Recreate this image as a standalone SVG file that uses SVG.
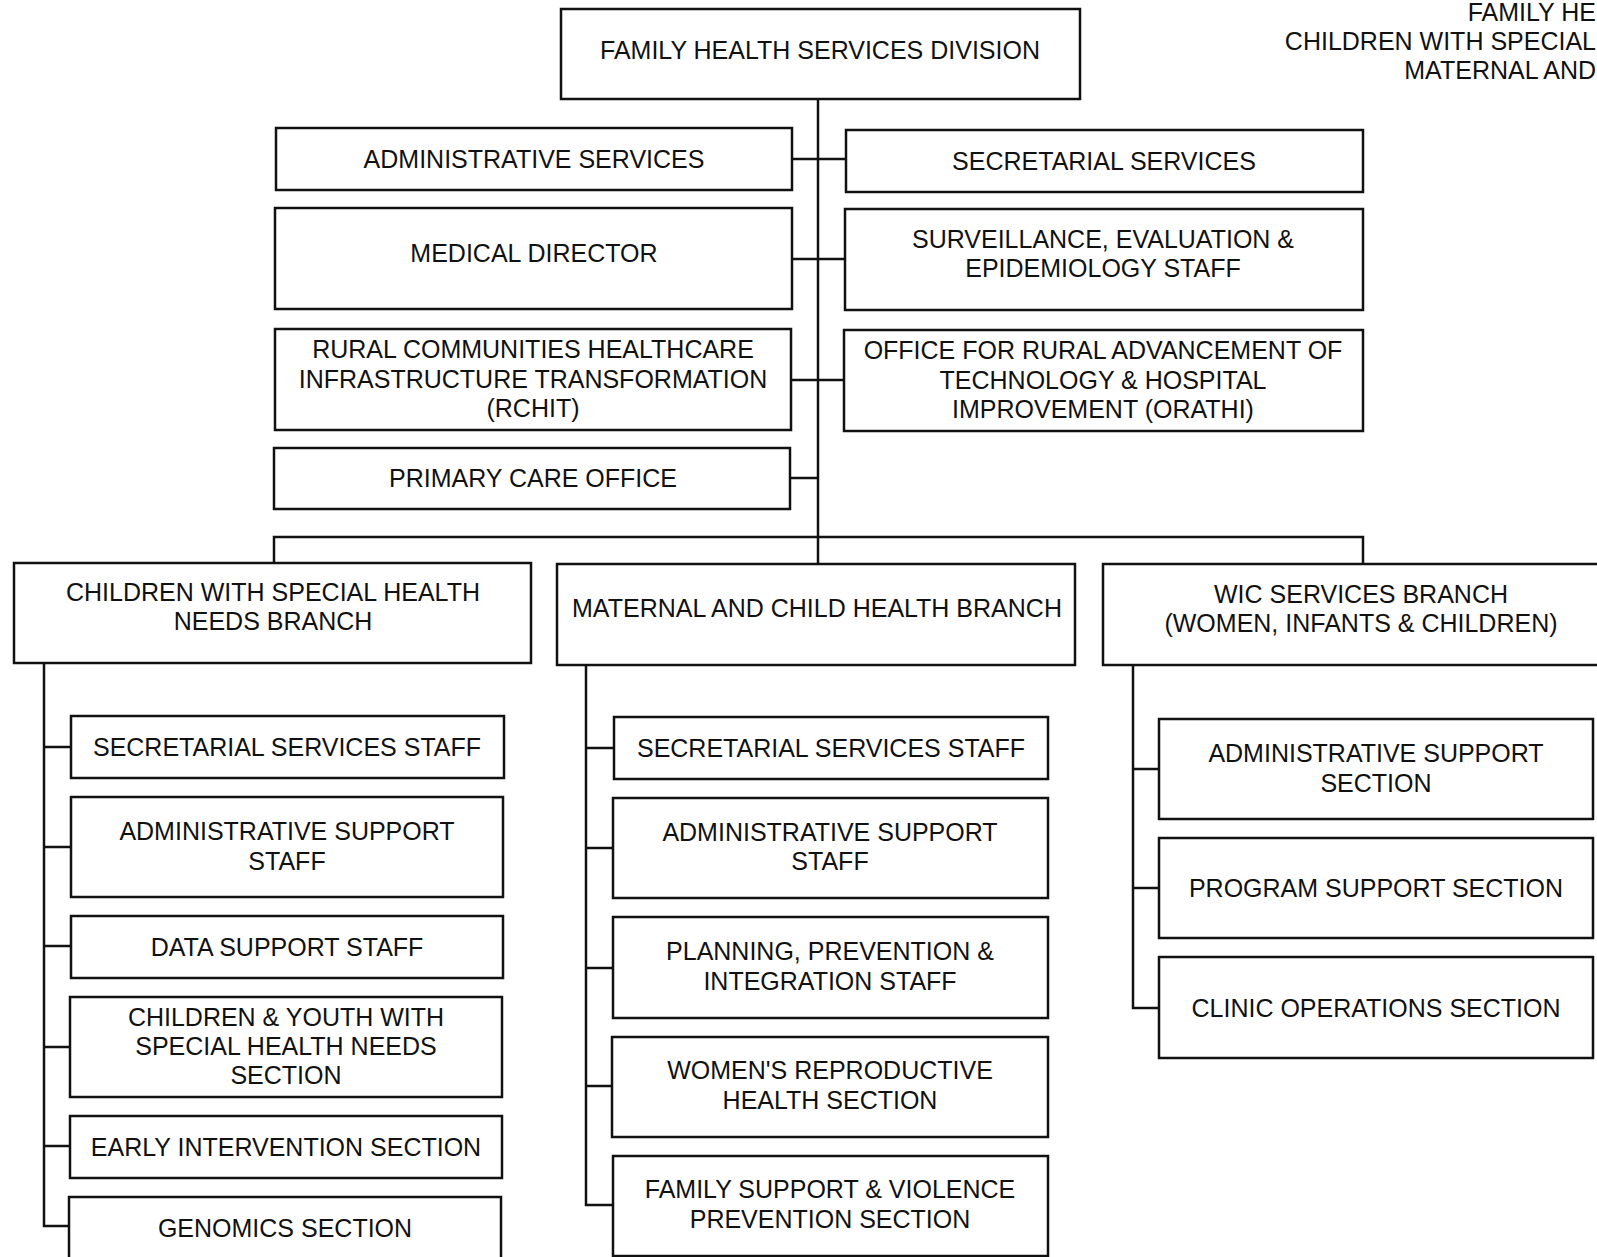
<svg xmlns="http://www.w3.org/2000/svg" width="1597" height="1257" viewBox="0 0 1597 1257">
<style>
.box{fill:#fff;stroke:#111;stroke-width:2.5}
.ln{fill:none;stroke:#111;stroke-width:2.5}
text{font-family:"Liberation Sans",Arial,sans-serif;font-size:25px;fill:#111;text-anchor:middle}
.hdr{text-anchor:end}
</style>
<rect width="1597" height="1257" fill="#fff"/>
<g id="header-text">
<text class="hdr" x="1596" y="21">FAMILY HE</text>
<text class="hdr" x="1596" y="50">CHILDREN WITH SPECIAL</text>
<text class="hdr" x="1596" y="79">MATERNAL AND</text>
</g>
<g id="connectors">
<path class="ln" d="M818 99V564"/>
<path class="ln" d="M792 159H846M792 259H845M791 380H844M790 478H818"/>
<path class="ln" d="M274 563V537H1363V564"/>
<path class="ln" d="M44 663V1226H69M44 747H71M44 847H71M44 946H71M44 1047H70M44 1146H70"/>
<path class="ln" d="M586 665V1205H613M586 748H614M586 848H613M586 968H613M586 1086H612"/>
<path class="ln" d="M1133 665V1008H1159M1133 769H1159M1133 888H1159"/>
</g>
<g id="n-fhsd"><rect class="box" x="561" y="9" width="519" height="90"/><text x="820" y="59">FAMILY HEALTH SERVICES DIVISION</text></g>
<g id="n-admin-services"><rect class="box" x="276" y="128" width="516" height="62"/><text x="534" y="168">ADMINISTRATIVE SERVICES</text></g>
<g id="n-secretarial-services"><rect class="box" x="846" y="130" width="517" height="62"/><text x="1104" y="170">SECRETARIAL SERVICES</text></g>
<g id="n-medical-director"><rect class="box" x="275" y="208" width="517" height="101"/><text x="534" y="262">MEDICAL DIRECTOR</text></g>
<g id="n-surveillance"><rect class="box" x="845" y="209" width="518" height="101"/><text x="1103" y="248">SURVEILLANCE, EVALUATION &amp;</text><text x="1103" y="277">EPIDEMIOLOGY STAFF</text></g>
<g id="n-rchit"><rect class="box" x="275" y="329" width="516" height="101"/><text x="533" y="358">RURAL COMMUNITIES HEALTHCARE</text><text x="533" y="388">INFRASTRUCTURE TRANSFORMATION</text><text x="533" y="417">(RCHIT)</text></g>
<g id="n-orathi"><rect class="box" x="844" y="330" width="519" height="101"/><text x="1103" y="359">OFFICE FOR RURAL ADVANCEMENT OF</text><text x="1103" y="389">TECHNOLOGY &amp; HOSPITAL</text><text x="1103" y="418">IMPROVEMENT (ORATHI)</text></g>
<g id="n-primary-care"><rect class="box" x="274" y="448" width="516" height="61"/><text x="533" y="487">PRIMARY CARE OFFICE</text></g>
<g id="n-cshn"><rect class="box" x="14" y="563" width="517" height="100"/><text x="273" y="601">CHILDREN WITH SPECIAL HEALTH</text><text x="273" y="630">NEEDS BRANCH</text></g>
<g id="n-mch"><rect class="box" x="557" y="564" width="518" height="101"/><text x="817" y="617">MATERNAL AND CHILD HEALTH BRANCH</text></g>
<g id="n-wic"><rect class="box" x="1103" y="564" width="520" height="101"/><text x="1361" y="603">WIC SERVICES BRANCH</text><text x="1361" y="632">(WOMEN, INFANTS &amp; CHILDREN)</text></g>
<g id="n-cshn-sec"><rect class="box" x="71" y="716" width="433" height="62"/><text x="287" y="756">SECRETARIAL SERVICES STAFF</text></g>
<g id="n-cshn-admin"><rect class="box" x="71" y="797" width="432" height="100"/><text x="287" y="840">ADMINISTRATIVE SUPPORT</text><text x="287" y="870">STAFF</text></g>
<g id="n-cshn-data"><rect class="box" x="71" y="916" width="432" height="62"/><text x="287" y="956">DATA SUPPORT STAFF</text></g>
<g id="n-cshn-cyshcn"><rect class="box" x="70" y="997" width="432" height="100"/><text x="286" y="1026">CHILDREN &amp; YOUTH WITH</text><text x="286" y="1055">SPECIAL HEALTH NEEDS</text><text x="286" y="1084">SECTION</text></g>
<g id="n-cshn-early"><rect class="box" x="70" y="1116" width="432" height="62"/><text x="286" y="1156">EARLY INTERVENTION SECTION</text></g>
<g id="n-cshn-genomics"><rect class="box" x="69" y="1197" width="432" height="80"/><text x="285" y="1237">GENOMICS SECTION</text></g>
<g id="n-mch-sec"><rect class="box" x="614" y="717" width="434" height="62"/><text x="831" y="757">SECRETARIAL SERVICES STAFF</text></g>
<g id="n-mch-admin"><rect class="box" x="613" y="798" width="435" height="100"/><text x="830" y="841">ADMINISTRATIVE SUPPORT</text><text x="830" y="870">STAFF</text></g>
<g id="n-mch-planning"><rect class="box" x="613" y="917" width="435" height="101"/><text x="830" y="960">PLANNING, PREVENTION &amp;</text><text x="830" y="990">INTEGRATION STAFF</text></g>
<g id="n-mch-womens"><rect class="box" x="612" y="1037" width="436" height="100"/><text x="830" y="1079">WOMEN'S REPRODUCTIVE</text><text x="830" y="1109">HEALTH SECTION</text></g>
<g id="n-mch-family"><rect class="box" x="613" y="1156" width="435" height="100"/><text x="830" y="1198">FAMILY SUPPORT &amp; VIOLENCE</text><text x="830" y="1228">PREVENTION SECTION</text></g>
<g id="n-wic-admin"><rect class="box" x="1159" y="719" width="434" height="100"/><text x="1376" y="762">ADMINISTRATIVE SUPPORT</text><text x="1376" y="792">SECTION</text></g>
<g id="n-wic-program"><rect class="box" x="1159" y="838" width="434" height="100"/><text x="1376" y="897">PROGRAM SUPPORT SECTION</text></g>
<g id="n-wic-clinic"><rect class="box" x="1159" y="957" width="434" height="101"/><text x="1376" y="1017">CLINIC OPERATIONS SECTION</text></g>
</svg>
